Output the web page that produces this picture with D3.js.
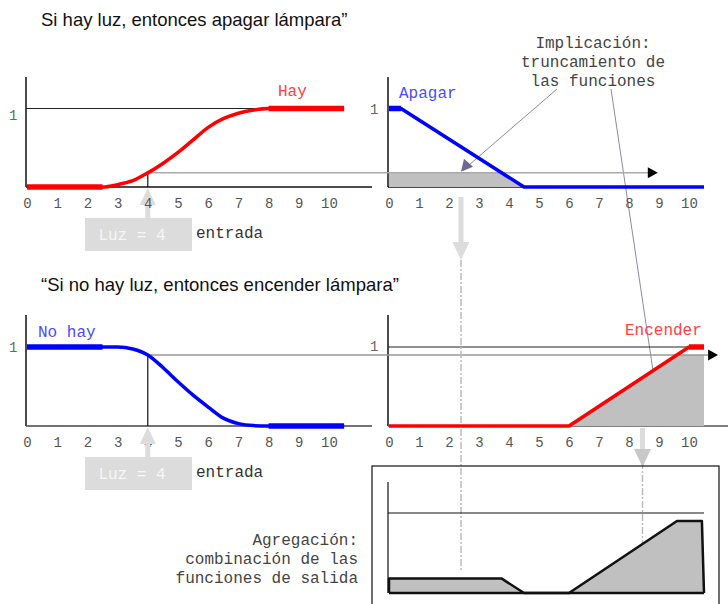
<!DOCTYPE html>
<html>
<head>
<meta charset="utf-8">
<script src="https://cdn.jsdelivr.net/npm/d3@7"></script>
<style>
  body { margin: 0; background: #fff; }
  svg { display: block; }
  .mono { font-family: "Liberation Mono", "DejaVu Sans Mono", monospace; }
</style>
</head>
<body>
<script>
// --- data ---
var ticks = [0, 1, 2, 3, 4, 5, 6, 7, 8, 9, 10];

var hayX = [0, 2.5, 3, 3.5, 4, 4.5, 5, 5.5, 6, 6.5, 7, 7.5, 8, 10.5];
var hayY = [0, 0, 0.03, 0.08, 0.18, 0.3, 0.44, 0.6, 0.76, 0.87, 0.94, 0.98, 1, 1];

var noHayX = [0, 2.5, 3, 3.5, 4, 4.5, 5, 5.5, 6, 6.5, 7, 7.5, 8, 10.5];
var noHayY = [1, 1, 1, 0.975, 0.9, 0.74, 0.56, 0.39, 0.24, 0.1, 0.03, 0.005, 0, 0];

var apagarX = [0, 0.4, 4.5, 10.5];
var apagarY = [1, 1, 0, 0];

var encenderX = [0, 6, 10, 10.5];
var encenderY = [0, 0, 1, 1];

// truncated outputs (implication) and their aggregation
var apagarCutX = [0, 0, 3.76, 4.5];
var apagarCutY = [0, 0.18, 0.18, 0];
var encenderCutX = [6, 9.6, 10.5, 10.5];
var encenderCutY = [0, 0.9, 0.9, 0];
var aggX = [0, 0, 3.76, 4.5, 6, 9.6, 10.43, 10.5];
var aggY = [0, 0.18, 0.18, 0, 0, 0.9, 0.9, 0];

var luz = 4;
var apagarCut = 0.18;
var encenderCut = 0.9;
var apagarCenter = 2.4;
var encenderCenter = 8.45;

var width = 728, height = 604;

function pts(xs, ys) { return xs.map((x, i) => [x, ys[i]]); }

var svg = d3.select("body").append("svg")
    .attr("width", width)
    .attr("height", height);

var xL = d3.scaleLinear().domain([0, 10]).range([27, 329]);
var xR = d3.scaleLinear().domain([0, 10]).range([389, 689]);
var yTop = d3.scaleLinear().domain([0, 1]).range([187, 108.5]);
var yBot = d3.scaleLinear().domain([0, 1]).range([426, 347]);
var yAgg = d3.scaleLinear().domain([0, 1]).range([593, 513]);

var grayArrow = "#dcdcdc";

// titles
svg.append("text")
    .attr("x", 41).attr("y", 26)
    .style("font-family", "'Liberation Sans', Arial, sans-serif")
    .style("font-size", "18.5px")
    .attr("fill", "#111")
    .text("Si hay luz, entonces apagar lámpara\u201D");

svg.append("text")
    .attr("x", 41).attr("y", 291)
    .style("font-family", "'Liberation Sans', Arial, sans-serif")
    .style("font-size", "18.5px")
    .attr("fill", "#111")
    .text("\u201CSi no hay luz, entonces encender lámpara\u201D");

// annotation texts
var impl = svg.append("text")
    .classed("mono", true)
    .attr("text-anchor", "middle")
    .style("font-size", "16px")
    .attr("fill", "#444");
["Implicación:", "truncamiento de", "las funciones"].forEach((t, i) => {
  impl.append("tspan").attr("x", 593).attr("y", 48 + i * 19).text(t);
});

var agg = svg.append("text")
    .classed("mono", true)
    .attr("text-anchor", "end")
    .style("font-size", "16px")
    .attr("fill", "#444");
["Agregación:", "combinación de las", "funciones de salida"].forEach((t, i) => {
  agg.append("tspan").attr("x", 358).attr("y", 545 + i * 19).text(t);
});

// implication pointer lines
var pointerColor = "#8a8aa8";
svg.append("line")
    .attr("x1", 557).attr("y1", 89)
    .attr("x2", xR(apagarCenter) + 7).attr("y2", yTop(apagarCut) - 7)
    .attr("stroke", pointerColor).attr("stroke-width", 1);
svg.append("path")
    .attr("d", "M" + (xR(apagarCenter)) + "," + (yTop(apagarCut) - 1) +
         "l3,-13 l9,8 z")
    .attr("fill", "#6c6c90");
svg.append("line")
    .attr("x1", 611).attr("y1", 89)
    .attr("x2", 653).attr("y2", yBot(0.7))
    .attr("stroke", pointerColor).attr("stroke-width", 1);

var line = (x, y) => d3.line().x(d => x(d[0])).y(d => y(d[1]));

function drawPanel(x, y, top, opts) {
  var g = svg.append("g");
  // y axis
  g.append("line")
      .attr("x1", x(0) - 1).attr("x2", x(0) - 1)
      .attr("y1", top).attr("y2", y(0))
      .attr("stroke", "#111").attr("stroke-width", 1.5);
  // baseline
  g.append("line")
      .attr("x1", opts.baseFrom).attr("x2", opts.baseTo)
      .attr("y1", y(0)).attr("y2", y(0))
      .attr("stroke", opts.baseColor || "#111").attr("stroke-width", 1.5);
  // "1" label
  g.append("text")
      .classed("mono", true)
      .attr("x", opts.oneX).attr("y", y(1) + opts.oneDy)
      .style("font-size", "14px")
      .attr("fill", "#666")
      .text("1");
  return g;
}

function drawTicks(x, yPos) {
  var axis = d3.axisBottom(x).tickValues(ticks).tickSize(0).tickPadding(0);
  var g = svg.append("g")
      .attr("transform", "translate(0," + yPos + ")")
      .call(axis);
  g.select(".domain").remove();
  g.selectAll("text")
      .attr("class", "mono")
      .style("font-family", "'Liberation Mono', monospace")
      .style("font-size", "14px")
      .attr("fill", "#555");
  return g;
}

function drawCurve(x, y, xs, ys, color, thick, curve) {
  var data = pts(xs, ys);
  svg.append("path")
      .datum(data)
      .attr("fill", "none")
      .attr("stroke", color)
      .attr("stroke-width", 3.5)
      .attr("stroke-linejoin", "round")
      .attr("d", line(x, y).curve(curve || d3.curveLinear));
  thick.forEach(seg => {
    svg.append("path")
        .datum(data.slice(seg[0], seg[1] + 1))
        .attr("fill", "none")
        .attr("stroke", color)
        .attr("stroke-width", 5.5)
        .attr("d", line(x, y));
  });
}

function luzBox(cx, axisY, boxTop) {
  var ax = xL(luz);
  // up arrow
  svg.append("rect")
      .attr("x", ax - 2.5).attr("y", axisY + 17)
      .attr("width", 5).attr("height", boxTop - axisY - 17)
      .attr("fill", grayArrow);
  svg.append("path")
      .attr("d", "M" + ax + "," + (axisY + 1) + "L" + (ax + 8) + "," + (axisY + 18) +
           "L" + (ax - 8) + "," + (axisY + 18) + "Z")
      .attr("fill", grayArrow);
  svg.append("rect")
      .attr("x", 85).attr("y", boxTop)
      .attr("width", 107).attr("height", 33)
      .attr("fill", grayArrow);
  svg.append("text")
      .classed("mono", true)
      .attr("x", cx).attr("y", boxTop + 22)
      .attr("text-anchor", "middle")
      .style("font-size", "16px")
      .attr("fill", "#f6f6f6")
      .text("Luz = " + luz);
  svg.append("text")
      .classed("mono", true)
      .attr("x", 196).attr("y", boxTop + 20)
      .style("font-size", "16px")
      .attr("fill", "#333")
      .text("entrada");
}

// ---------- top row ----------
// top-left: Hay
drawPanel(xL, yTop, 77, { baseFrom: 26, baseTo: 372, oneX: 9, oneDy: 11 });
svg.append("line")
    .attr("x1", xL(0) - 1).attr("x2", xL(8))
    .attr("y1", yTop(1)).attr("y2", yTop(1))
    .attr("stroke", "#222").attr("stroke-width", 1);

// top-right: Apagar
drawPanel(xR, yTop, 77, { baseFrom: 388, baseTo: xR(10.4), oneX: 370, oneDy: 5 });
svg.append("path")
    .datum(pts(apagarCutX, apagarCutY))
    .attr("fill", "#c0c0c0")
    .attr("d", line(xR, yTop));

// implication guide: gray line at hay(luz)
svg.append("line")
    .attr("x1", xL(luz)).attr("x2", xR(8.65))
    .attr("y1", yTop(apagarCut)).attr("y2", yTop(apagarCut))
    .attr("stroke", "#aaa").attr("stroke-width", 1.5);
svg.append("path")
    .attr("d", "M" + xR(8.96) + "," + yTop(apagarCut) + "l-10,-5.5 l0,11 z")
    .attr("fill", "#000");
svg.append("line")
    .attr("x1", xL(luz)).attr("x2", xL(luz))
    .attr("y1", yTop(0)).attr("y2", yTop(apagarCut))
    .attr("stroke", "#111").attr("stroke-width", 1.2);

drawCurve(xL, yTop, hayX, hayY, "#ff0000", [[0, 1], [12, 13]], d3.curveMonotoneX);
drawCurve(xR, yTop, apagarX, apagarY, "#0000ff", [[0, 1]]);

svg.append("text").classed("mono", true)
    .attr("x", 278).attr("y", 96).style("font-size", "16px")
    .attr("fill", "#ff4040").text("Hay");
svg.append("text").classed("mono", true)
    .attr("x", 399).attr("y", 98).style("font-size", "16px")
    .attr("fill", "#4a4aff").text("Apagar");

luzBox(132, 187, 218);
drawTicks(xL, 198);
drawTicks(xR, 198);

// down arrow to aggregation (apagar)
svg.append("rect")
    .attr("x", xR(apagarCenter) - 2.5).attr("y", 197)
    .attr("width", 5).attr("height", 46)
    .attr("fill", grayArrow);
svg.append("path")
    .attr("d", "M" + xR(apagarCenter) + ",260 l-8.5,-18 l17,0 z")
    .attr("fill", grayArrow);

// ---------- bottom row ----------
drawPanel(xL, yBot, 315, { baseFrom: 26, baseTo: 372, baseColor: "#444", oneX: 9, oneDy: 5 });
drawPanel(xR, yBot, 315, { baseFrom: 388, baseTo: 728, baseColor: "#555", oneX: 370, oneDy: 4 });

svg.append("line")
    .attr("x1", xR(0) - 1).attr("x2", xR(10))
    .attr("y1", yBot(1)).attr("y2", yBot(1))
    .attr("stroke", "#222").attr("stroke-width", 1);

svg.append("path")
    .datum(pts(encenderCutX, encenderCutY))
    .attr("fill", "#c0c0c0")
    .attr("d", line(xR, yBot));

svg.append("line")
    .attr("x1", xL(luz)).attr("x2", xR(10.65))
    .attr("y1", yBot(encenderCut)).attr("y2", yBot(encenderCut))
    .attr("stroke", "#999").attr("stroke-width", 1.5);
svg.append("path")
    .attr("d", "M" + xR(10.97) + "," + yBot(encenderCut) + "l-10,-5.5 l0,11 z")
    .attr("fill", "#000");
svg.append("line")
    .attr("x1", xL(luz)).attr("x2", xL(luz))
    .attr("y1", yBot(0)).attr("y2", yBot(encenderCut))
    .attr("stroke", "#111").attr("stroke-width", 1.2);

// dash-dot guide lines
svg.append("line")
    .attr("x1", xR(apagarCenter)).attr("x2", xR(apagarCenter))
    .attr("y1", 260).attr("y2", yAgg(0.28))
    .attr("stroke", "#bbb").attr("stroke-width", 1.5)
    .attr("stroke-dasharray", "7,2,2,2");
svg.append("line")
    .attr("x1", xR(encenderCenter)).attr("x2", xR(encenderCenter))
    .attr("y1", 462).attr("y2", yAgg(0.6))
    .attr("stroke", "#bbb").attr("stroke-width", 1.5)
    .attr("stroke-dasharray", "7,2,2,2");

drawCurve(xL, yBot, noHayX, noHayY, "#0000ff", [[0, 1], [12, 13]], d3.curveMonotoneX);
drawCurve(xR, yBot, encenderX, encenderY, "#ff0000", [[2, 3]]);

svg.append("text").classed("mono", true)
    .attr("x", 38).attr("y", 337).style("font-size", "16px")
    .attr("fill", "#4a4aff").text("No hay");
svg.append("text").classed("mono", true)
    .attr("x", 625).attr("y", 335).style("font-size", "16px")
    .attr("fill", "#ff4040").text("Encender");

drawTicks(xL, 437);
drawTicks(xR, 437);
luzBox(132, 426, 457);

// down arrow to aggregation (encender)
svg.append("rect")
    .attr("x", xR(encenderCenter) - 2.5).attr("y", 428)
    .attr("width", 5).attr("height", 24)
    .attr("fill", grayArrow);
svg.append("path")
    .attr("d", "M" + xR(encenderCenter) + ",467 l-8.5,-18 l17,0 z")
    .attr("fill", "#c8c8c8");

// ---------- aggregation ----------
svg.append("rect")
    .attr("x", 372).attr("y", 466)
    .attr("width", 347).attr("height", 150)
    .attr("fill", "none")
    .attr("stroke", "#111").attr("stroke-width", 1.2);
svg.append("line")
    .attr("x1", xR(0) - 1).attr("x2", xR(0) - 1)
    .attr("y1", 482).attr("y2", yAgg(0))
    .attr("stroke", "#111").attr("stroke-width", 1.2);
svg.append("line")
    .attr("x1", xR(0) - 1).attr("x2", xR(10.5))
    .attr("y1", yAgg(1)).attr("y2", yAgg(1))
    .attr("stroke", "#111").attr("stroke-width", 1);
svg.append("path")
    .datum(pts(aggX, aggY))
    .attr("fill", "#c0c0c0")
    .attr("stroke", "#111")
    .attr("stroke-width", 2.5)
    .attr("stroke-linejoin", "round")
    .attr("d", line(xR, yAgg));
svg.append("line")
    .attr("x1", xR(0)).attr("x2", xR(10.5))
    .attr("y1", yAgg(0)).attr("y2", yAgg(0))
    .attr("stroke", "#111").attr("stroke-width", 2.5);
</script>
</body>
</html>
